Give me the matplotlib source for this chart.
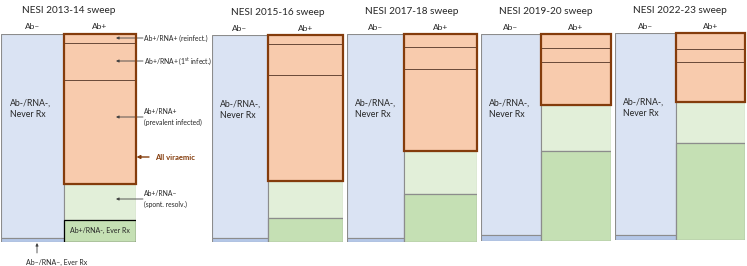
import matplotlib
matplotlib.use("Agg")
import matplotlib.pyplot as plt

plt.rcParams['font.family'] = ['Lato', 'DejaVu Sans']
plt.rcParams['mathtext.fontset'] = 'custom'
plt.rcParams['mathtext.rm'] = 'Lato'

W, H = 747, 266

# sweep titles
sweeps = ["NESI 2013-14 sweep", "NESI 2015-16 sweep", "NESI 2017-18 sweep",
          "NESI 2019-20 sweep", "NESI 2022-23 sweep"]

# column widths (relative, Ab- vs Ab+)
abneg_width = [62.5, 56, 57, 60, 61]
abpos_width = [71.5, 75, 73, 70, 69]

# Ab- column: % ever treated (sliver at bottom)
abneg_ever_rx = [2.0, 2.0, 2.0, 3.0, 2.5]

# Ab+ column, % of column, bottom to top
abpos_ever_rx = [10.6, 11.6, 23.0, 43.5, 46.9]
abpos_spont = [17.3, 17.9, 20.7, 22.2, 19.8]
abpos_prevalent = [49.8, 51.2, 39.4, 20.8, 19.3]
abpos_first = [17.7, 15.0, 10.6, 6.8, 6.3]
abpos_reinf = [4.6, 4.3, 6.3, 6.7, 7.7]

# panel placement in pixels: left, top, bottom
panel_left = [1.5, 212, 347, 481, 615]
panel_top = [33.5, 35, 34, 34, 33]
panel_bottom = [242, 242, 242, 241, 240]

BLUE = '#dae3f3'
BLUE_D = '#b4c7e7'
ORANGE = '#f8cbad'
LGREEN = '#e2efd9'
DGREEN = '#c5e0b4'
BROWN = '#843c0c'
GREY = '#8c8c8c'
TXT = '#262626'

fig = plt.figure(figsize=(W / 100, H / 100), dpi=100)


def ff(x, y):
    return (x / W, 1 - y / H)


for i in range(5):
    wn, wp = abneg_width[i], abpos_width[i]
    x0, t, b = panel_left[i], panel_top[i], panel_bottom[i]
    ax = fig.add_axes([x0 / W, 1 - b / H, (wn + wp) / W, (b - t) / H])
    ax.set_xlim(0, wn + wp)
    ax.set_ylim(0, 100)
    ax.axis('off')

    # Ab- column
    ax.bar(0, 100 - abneg_ever_rx[i], bottom=abneg_ever_rx[i], width=wn, align='edge',
           color=BLUE, edgecolor=GREY, linewidth=0.8)
    ax.bar(0, abneg_ever_rx[i], width=wn, align='edge',
           color=BLUE_D, edgecolor=GREY, linewidth=0.8)

    # Ab+ column
    edge_ev = 'black' if i == 0 else GREY
    ax.bar(wn, abpos_ever_rx[i], width=wp, align='edge', color=DGREEN,
           edgecolor=edge_ev, linewidth=0.9, zorder=3 if i == 0 else 2)
    bot = abpos_ever_rx[i]
    ax.bar(wn, abpos_spont[i], bottom=bot, width=wp, align='edge', color=LGREEN,
           edgecolor=GREY, linewidth=0.8)
    bot += abpos_spont[i]
    vir_bottom = bot
    for val in [abpos_prevalent[i], abpos_first[i], abpos_reinf[i]]:
        ax.bar(wn, val, bottom=bot, width=wp, align='edge', color=ORANGE,
               edgecolor='#6b4a3a', linewidth=0.7)
        bot += val
    ax.bar(wn, 100 - vir_bottom, bottom=vir_bottom, width=wp, align='edge',
           fill=False, edgecolor=BROWN, linewidth=1.6, zorder=4, clip_on=False)

    # labels
    ax.annotate("Ab–", (wn / 2, 100), xytext=(0, 4.7), textcoords='offset points',
                ha='center', va='center', fontsize=6, color=TXT, annotation_clip=False)
    ax.annotate("Ab+", (wn + wp / 2, 100), xytext=(0, 4.7), textcoords='offset points',
                ha='center', va='center', fontsize=6, color=TXT, annotation_clip=False)
    ax.annotate(sweeps[i], ((wn + wp) / 2, 100), xytext=(0, 16.5),
                textcoords='offset points', ha='center', va='center',
                fontsize=7.2, color=TXT, annotation_clip=False)
    ax.text(8, 64, "Ab-/RNA-,\nNever Rx", ha='left', va='center', fontsize=6.3,
            color=TXT, linespacing=1.35)

    if i == 0:
        ax.text(wn + wp / 2, abpos_ever_rx[i] / 2, "Ab+/RNA-, Ever Rx", ha='center',
                va='center', fontsize=5, color=TXT, zorder=5)

# annotations for the first sweep
ax0 = fig.axes[0]
arrow = dict(arrowstyle='-|>', color='#404040', lw=0.6, mutation_scale=4,
             shrinkA=0, shrinkB=0)
notes = [("Ab+/RNA+ (reinfect.)", 38),
         ("Ab+/RNA+ (1$^{\\rm st}$ infect.)", 61),
         ("Ab+/RNA+\n(prevalent infected)", 117),
         ("Ab+/RNA–\n(spont. resolv.)", 199)]
for txt, y in notes:
    ax0.annotate("", xy=ff(116, y), xycoords='figure fraction',
                 xytext=ff(143, y), textcoords='figure fraction',
                 arrowprops=arrow, annotation_clip=False)
    fig.text(*ff(144, y), txt, ha='left', va='center', fontsize=4.9, color=TXT,
             linespacing=1.5)

ax0.annotate("", xy=ff(136.5, 157), xycoords='figure fraction',
             xytext=ff(149, 157), textcoords='figure fraction',
             arrowprops=dict(arrowstyle='-|>', color=BROWN, lw=1,
                             mutation_scale=5, shrinkA=0, shrinkB=0),
             annotation_clip=False)
fig.text(*ff(155, 157), "All viraemic", ha='left', va='center', fontsize=5.5,
         color=BROWN, fontweight='bold')

ax0.annotate("", xy=ff(37, 243), xycoords='figure fraction',
             xytext=ff(37, 253), textcoords='figure fraction',
             arrowprops=arrow, annotation_clip=False)
fig.text(*ff(57, 262), "Ab–/RNA–, Ever Rx", ha='center', va='center', fontsize=5,
         color=TXT)

fig.savefig("out.png", dpi=100)
